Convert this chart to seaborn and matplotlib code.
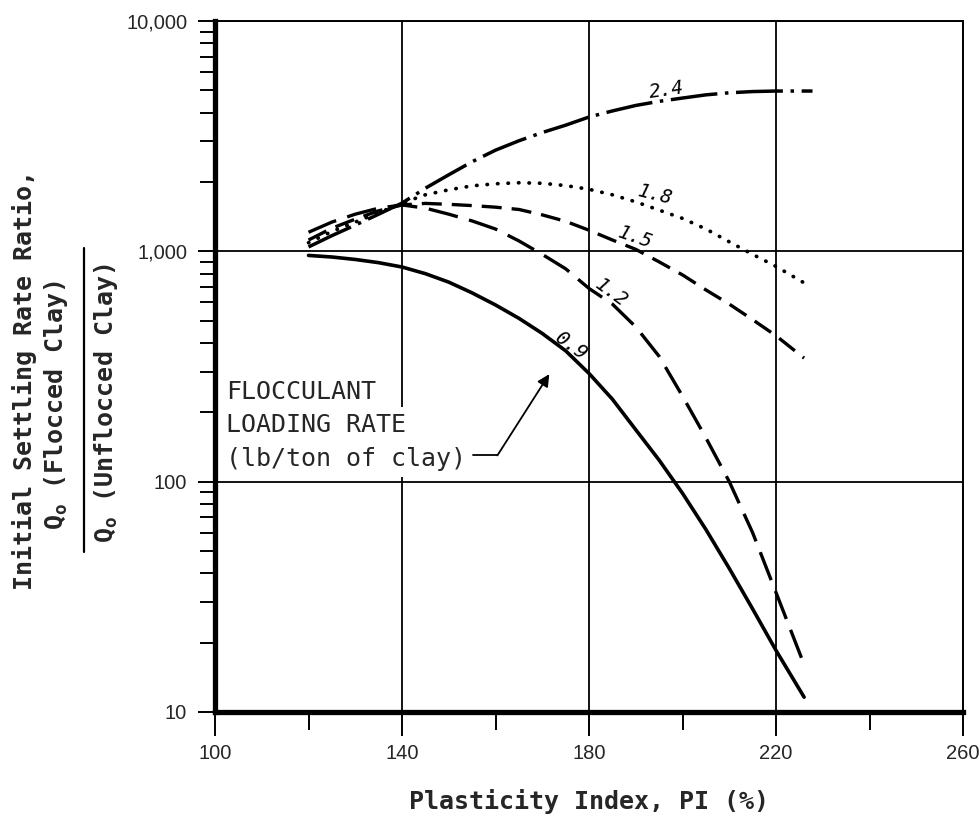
import matplotlib
matplotlib.use("Agg")
import matplotlib.pyplot as plt
from matplotlib.lines import Line2D
from matplotlib.ticker import LogLocator, NullFormatter, FixedLocator
import numpy as np
import pandas as pd
import seaborn as sns

# Initial settling rate ratio vs. plasticity index, one curve per flocculant dose
pi_09 = [120, 125, 130, 135, 140, 145, 150, 155, 160, 165, 170, 175, 180, 185, 190, 195, 200, 205, 210, 215, 220, 226]
q_09 = [960, 945, 922, 893, 855, 800, 735, 660, 585, 512, 440, 370, 295, 228, 168, 124, 89, 62, 42, 28, 18.5, 11.6]

pi_12 = [120, 125, 130, 135, 140, 145, 150, 155, 160, 165, 170, 175, 180, 185, 190, 195, 200, 205, 210, 215, 220, 226.3]
q_12 = [1210, 1340, 1450, 1540, 1590, 1540, 1450, 1355, 1250, 1110, 970, 840, 690, 590, 470, 350, 235, 155, 100, 60, 33, 15.5]

pi_15 = [120, 125, 130, 135, 140, 145, 150, 155, 160, 165, 170, 175, 180, 185, 190, 195, 200, 205, 210, 215, 220, 226]
q_15 = [1120, 1260, 1380, 1500, 1590, 1615, 1600, 1580, 1555, 1520, 1440, 1350, 1235, 1120, 1020, 900, 790, 680, 590, 505, 430, 344]

pi_18 = [120, 125, 130, 135, 140, 145, 150, 155, 160, 165, 170, 175, 180, 185, 190, 195, 200, 205, 210, 215, 220, 226.8]
q_18 = [1090, 1220, 1340, 1470, 1620, 1760, 1850, 1925, 1965, 1985, 1975, 1930, 1860, 1760, 1640, 1510, 1390, 1250, 1100, 970, 860, 714]

pi_24 = [120, 125, 130, 135, 140, 145, 150, 155, 160, 165, 170, 175, 180, 185, 190, 195, 200, 205, 210, 215, 220, 227.8]
q_24 = [1045, 1170, 1300, 1450, 1620, 1880, 2150, 2450, 2750, 3020, 3280, 3530, 3830, 4070, 4300, 4480, 4630, 4780, 4880, 4940, 4966, 4966]

rates = ["0.9", "1.2", "1.5", "1.8", "2.4"]

# curve label placement (PI, ratio, rotation)
label_pi = [176.0, 184.8, 189.9, 194.2, 196.6]
label_q = [388, 659, 1153, 1756, 5000]
label_rot = [-36, -36, -19, -14, 8]

x_ticks = [100, 140, 180, 220, 260]
x_minor = [120, 160, 200, 240]
y_ticks = [10, 100, 1000, 10000]
y_ticklabels = ["10", "100", "1,000", "10,000"]

note_lines = ["FLOCCULANT", "LOADING RATE", "(lb/ton of clay)"]
note_tops = [276, 199, 141]

series = [(pi_09, q_09), (pi_12, q_12), (pi_15, q_15), (pi_18, q_18), (pi_24, q_24)]

# line appearance per dose
line_styles = [
    dict(ls="-", lw=2.6, cap="round"),
    dict(ls=(0, (9, 3.5)), lw=2.4, cap="butt"),
    dict(ls=(0, (6, 3)), lw=2.4, cap="butt"),
    dict(ls=(0, (0.1, 2.7)), lw=2.7, cap="round"),
    dict(ls=(0, (13.5, 2.2, 1.0, 2.2)), lw=2.5, cap="butt"),
]

sns.set_style("ticks")
plt.rcParams["font.family"] = ["DejaVu Sans Mono", "DejaVu Sans"]

fig = plt.figure(figsize=(9.8, 8.18), dpi=100)
ax = fig.add_axes([0.2194, 0.1296, 0.7633, 0.8447])
ax.set_yscale("log")

for rate, (px, qv), st in zip(rates, series, line_styles):
    df = pd.DataFrame({"pi": px, "ratio": qv})
    sns.lineplot(data=df, x="pi", y="ratio", ax=ax, color="black",
                 linewidth=st["lw"], estimator=None, sort=False, zorder=4)
    ln = ax.lines[-1]
    ln.set_linestyle(st["ls"])
    ln.set_dash_capstyle(st["cap"])
    ln.set_solid_capstyle("round")
    ln.set_solid_joinstyle("round")

for rate, lx, ly, rot in zip(rates, label_pi, label_q, label_rot):
    ax.text(lx, ly, rate, fontsize=14, style="oblique", rotation=rot,
            ha="center", va="center", color="black", zorder=5,
            family="DejaVu Sans Mono")

ax.set_xlim(100, 260)
ax.set_ylim(10, 10000)

ax.xaxis.set_major_locator(FixedLocator(x_ticks))
ax.xaxis.set_minor_locator(FixedLocator(x_minor))
ax.set_xticklabels([str(v) for v in x_ticks])
ax.yaxis.set_major_locator(FixedLocator(y_ticks))
ax.set_yticklabels(y_ticklabels)
ax.yaxis.set_minor_locator(LogLocator(base=10, subs=np.arange(2, 10)))
ax.yaxis.set_minor_formatter(NullFormatter())

ax.grid(True, which="major", color="black", linewidth=1.3, zorder=1)
ax.set_axisbelow(True)

ax.tick_params(axis="both", which="both", direction="out", color="black", width=1.4)
ax.tick_params(axis="x", which="major", length=17, pad=6)
ax.tick_params(axis="x", which="minor", length=13)
ax.tick_params(axis="y", which="major", length=12, pad=8)
ax.tick_params(axis="y", which="minor", length=11)
for lab in ax.get_xticklabels() + ax.get_yticklabels():
    lab.set_fontfamily(["Liberation Sans", "DejaVu Sans"])
    lab.set_fontsize(14.5)

for side in ["left", "bottom"]:
    ax.spines[side].set_linewidth(3.8)
for side in ["top", "right"]:
    ax.spines[side].set_linewidth(1.4)
for sp in ax.spines.values():
    sp.set_color("black")
    sp.set_visible(True)

ax.set_xlabel("")
ax.set_ylabel("")

# legend note (each line on its own white patch) and pointer
for txt, top in zip(note_lines, note_tops):
    ax.text(102.3, top, txt, fontsize=18, ha="left", va="top",
            family="DejaVu Sans Mono", zorder=3,
            bbox=dict(facecolor="white", edgecolor="none", pad=4))
ax.plot([155.2, 160.4], [130, 130], color="black", lw=1.3, zorder=4)
ax.annotate("", xy=(171.5, 293), xytext=(160.4, 130),
            arrowprops=dict(arrowstyle="-|>", color="black", lw=1.3,
                            mutation_scale=18, shrinkA=0, shrinkB=0), zorder=4)

# axis titles
fig.text(0.601, 0.0196, "Plasticity Index, PI (%)", fontsize=18, fontweight="bold",
         ha="center", va="center", family="DejaVu Sans Mono")
fig.text(0.0255, 0.5355, "Initial Settling Rate Ratio,", fontsize=18, fontweight="bold",
         rotation=90, ha="center", va="center", family="DejaVu Sans Mono")
fig.text(0.057, 0.505, r"Q$_\mathregular{o}$ (Flocced Clay)", fontsize=18, fontweight="bold",
         rotation=90, ha="center", va="center", family="DejaVu Sans Mono")
fig.text(0.108, 0.507, r"Q$_\mathregular{o}$ (Unflocced Clay)", fontsize=18, fontweight="bold",
         rotation=90, ha="center", va="center", family="DejaVu Sans Mono")
fig.add_artist(Line2D([0.0857, 0.0857], [0.697, 0.325], color="black", lw=1.6,
                      transform=fig.transFigure))

fig.savefig("out.png", dpi=100)
